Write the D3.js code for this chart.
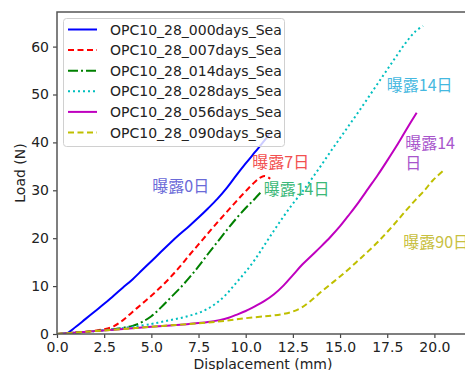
<!DOCTYPE html>
<html><head><meta charset="utf-8">
<script src="https://cdn.jsdelivr.net/npm/d3@7"></script>
<style>body{margin:0;background:#fff}svg{display:block}</style>
</head><body>
<svg id="c" width="465" height="370"></svg>
<script>
const seriesNames = ["OPC10_28_000days_Sea","OPC10_28_007days_Sea","OPC10_28_014days_Sea","OPC10_28_028days_Sea","OPC10_28_056days_Sea","OPC10_28_090days_Sea"];
const d000 = [[0,0],[0.45,0],[1,1.5],[1.5,3.1],[2,4.7],[2.5,6.3],[3,8.0],[3.5,9.7],[4,11.4],[4.5,13.3],[5,15.2],[5.5,17.1],[6,19.0],[6.5,20.8],[7,22.5],[7.5,24.3],[8,26.2],[8.5,28.2],[9,30.5],[9.5,33.1],[10,35.6],[10.5,38.0],[11,40.4],[11.3,42]];
const d007 = [[0,0],[1,0.3],[2,0.7],[2.5,1.0],[3,1.6],[3.5,2.9],[4,4.6],[4.5,6.3],[5,8.0],[5.5,9.8],[6,11.8],[6.5,14.0],[7,16.4],[7.5,18.7],[8,21],[8.5,23.3],[9,25.5],[9.5,27.7],[10,29.8],[10.5,31.8],[10.8,32.7],[11.02,33.0],[11.3,32.4]];
const d014 = [[0,0],[1,0.3],[2,0.6],[3,1.0],[3.5,1.3],[4,1.7],[4.5,2.5],[5,3.7],[5.5,5.5],[6,7.5],[6.5,9.5],[7,11.7],[7.5,14.1],[8,16.7],[8.5,19.2],[9,21.7],[9.5,24.1],[10,26.3],[10.4,27.9],[10.8,29.6]];
const d028 = [[0,0],[1,0.3],[2,0.6],[3,1.0],[4,1.5],[5,2.1],[5.5,2.5],[6,2.9],[6.5,3.3],[7,3.8],[7.5,4.4],[8,5.3],[8.5,6.6],[9,8.4],[9.5,10.7],[10,13.0],[10.5,15.6],[11,18.6],[11.5,21.6],[12,24.5],[12.5,27.2],[13,29.7],[13.5,32.4],[14,35.2],[14.5,38.1],[15,40.9],[15.5,43.7],[16,46.5],[16.5,49.4],[17,52.3],[17.5,55.2],[18,58.1],[18.5,60.9],[19,63.2],[19.4,64.3]];
const d056 = [[0,0],[1,0.3],[2,0.6],[3,0.9],[4,1.2],[5,1.5],[6,1.8],[7,2.1],[8,2.5],[8.6,2.9],[9.1,3.4],[9.5,4.0],[10,4.8],[10.5,5.8],[11,6.9],[11.5,8.3],[12,10.1],[12.5,12.3],[13,14.5],[13.5,16.4],[14,18.3],[14.5,20.3],[15,22.5],[15.5,25.0],[16,27.6],[16.5,30.4],[17,33.2],[17.5,36.2],[18,39.3],[18.5,42.6],[19.06,46.2]];
const d090 = [[0,0],[1,0.3],[2,0.6],[3,0.9],[4,1.2],[5,1.5],[6,1.8],[7,2.1],[8,2.4],[9,2.8],[10,3.3],[11,3.7],[11.5,3.9],[12,4.2],[12.5,4.7],[13,5.6],[13.5,7.1],[14,8.8],[14.5,10.4],[15,12.0],[15.5,13.7],[16,15.5],[16.5,17.3],[17,19.2],[17.5,21.3],[18,23.5],[18.5,25.8],[19,28.0],[19.5,30.1],[19.9,32.0],[20.44,34]];
const seriesData = [d000,d007,d014,d028,d056,d090];
const xTicks = [0,2.5,5,7.5,10,12.5,15,17.5,20];
const yTicks = [0,10,20,30,40,50,60];
const annotations = [
  {text:"曝露0日", x:5.05, y:29.65, color:"#6a6ad8"},
  {text:"曝露7日", x:10.35, y:34.65, color:"#f25050"},
  {text:"曝露14日", x:10.95, y:28.95, color:"#3cb878"},
  {text:"曝露14日", x:17.48, y:50.75, color:"#45b8e0"},
  {text:"曝露14", x:18.45, y:38.55, color:"#a855cc"},
  {text:"日", x:18.45, y:34.35, color:"#a855cc"},
  {text:"曝露90日", x:18.35, y:18.05, color:"#c8c040"}
];

const colors = ["#0000ff","#ff0000","#008000","#00bfbf","#bf00bf","#bfbf00"];
const dashes = [null,"6,3.5","10,3,2,3","2,3",null,"6,3.5"];

const svg = d3.select("#c");
const L=57, R=470, T=12, B=334;
const x = d3.scaleLinear().domain([0,(R-L)/18.87]).range([L,R]);
const y = d3.scaleLinear().domain([0,(B-T)/4.79]).range([B,T]);

svg.append("defs").append("clipPath").attr("id","clip")
  .append("rect").attr("x",L).attr("y",T).attr("width",R-L).attr("height",B-T);

const line = d3.line().x(d=>x(d[0])).y(d=>y(d[1])).curve(d3.curveCatmullRom.alpha(0.5));
const g = svg.append("g").attr("clip-path","url(#clip)");
seriesData.forEach((d,i)=>{
  g.append("path").attr("d",line(d)).attr("fill","none")
   .attr("stroke",colors[i]).attr("stroke-width",2)
   .attr("stroke-dasharray",dashes[i]);
});

// axes
const xa = svg.append("g").attr("transform",`translate(0,${B})`)
  .call(d3.axisBottom(x).tickValues(xTicks).tickFormat(d3.format(".1f")).tickSizeOuter(0).tickSize(4).tickPadding(4));
const ya = svg.append("g").attr("transform",`translate(${L},0)`)
  .call(d3.axisLeft(y).tickValues(yTicks).tickFormat(d3.format("d")).tickSizeOuter(0).tickSize(4).tickPadding(4));
[xa,ya].forEach(a=>{
  a.selectAll("text").attr("font-family","DejaVu Sans").attr("font-size","14px").attr("fill","#222");
  a.selectAll("line").attr("stroke","#444").attr("stroke-width",1.2);
  a.select(".domain").remove();
});
// spines
svg.append("rect").attr("x",L).attr("y",T).attr("width",R-L).attr("height",B-T)
  .attr("fill","none").attr("stroke","#555").attr("stroke-width",1.5);

svg.append("text").attr("x",263).attr("y",369).attr("text-anchor","middle")
  .attr("font-family","DejaVu Sans").attr("font-size","14px").attr("fill","#222").text("Displacement (mm)");
svg.append("text").attr("transform","translate(25,173) rotate(-90)").attr("text-anchor","middle")
  .attr("font-family","DejaVu Sans").attr("font-size","14px").attr("fill","#222").text("Load (N)");

// annotations
annotations.forEach(a=>{
  svg.append("text").attr("x",x(a.x)).attr("y",y(a.y)).attr("font-family","Noto Sans CJK SC")
    .attr("font-size","16px").attr("fill",a.color).text(a.text);
});

// legend
const lg = svg.append("g");
lg.append("rect").attr("x",63.5).attr("y",18.5).attr("width",221).attr("height",128).attr("rx",3)
  .attr("fill","#fff").attr("fill-opacity",0.8).attr("stroke","#d0d0d0").attr("stroke-width",1);
seriesNames.forEach((n,i)=>{
  const yy = 29.5 + i*20.6;
  lg.append("line").attr("x1",68).attr("x2",97).attr("y1",yy).attr("y2",yy)
    .attr("stroke",colors[i]).attr("stroke-width",2).attr("stroke-dasharray",dashes[i]);
  lg.append("text").attr("x",110).attr("y",yy+5).attr("font-family","DejaVu Sans")
    .attr("font-size","14px").attr("fill","#222").text(n);
});
</script>
</body></html>
